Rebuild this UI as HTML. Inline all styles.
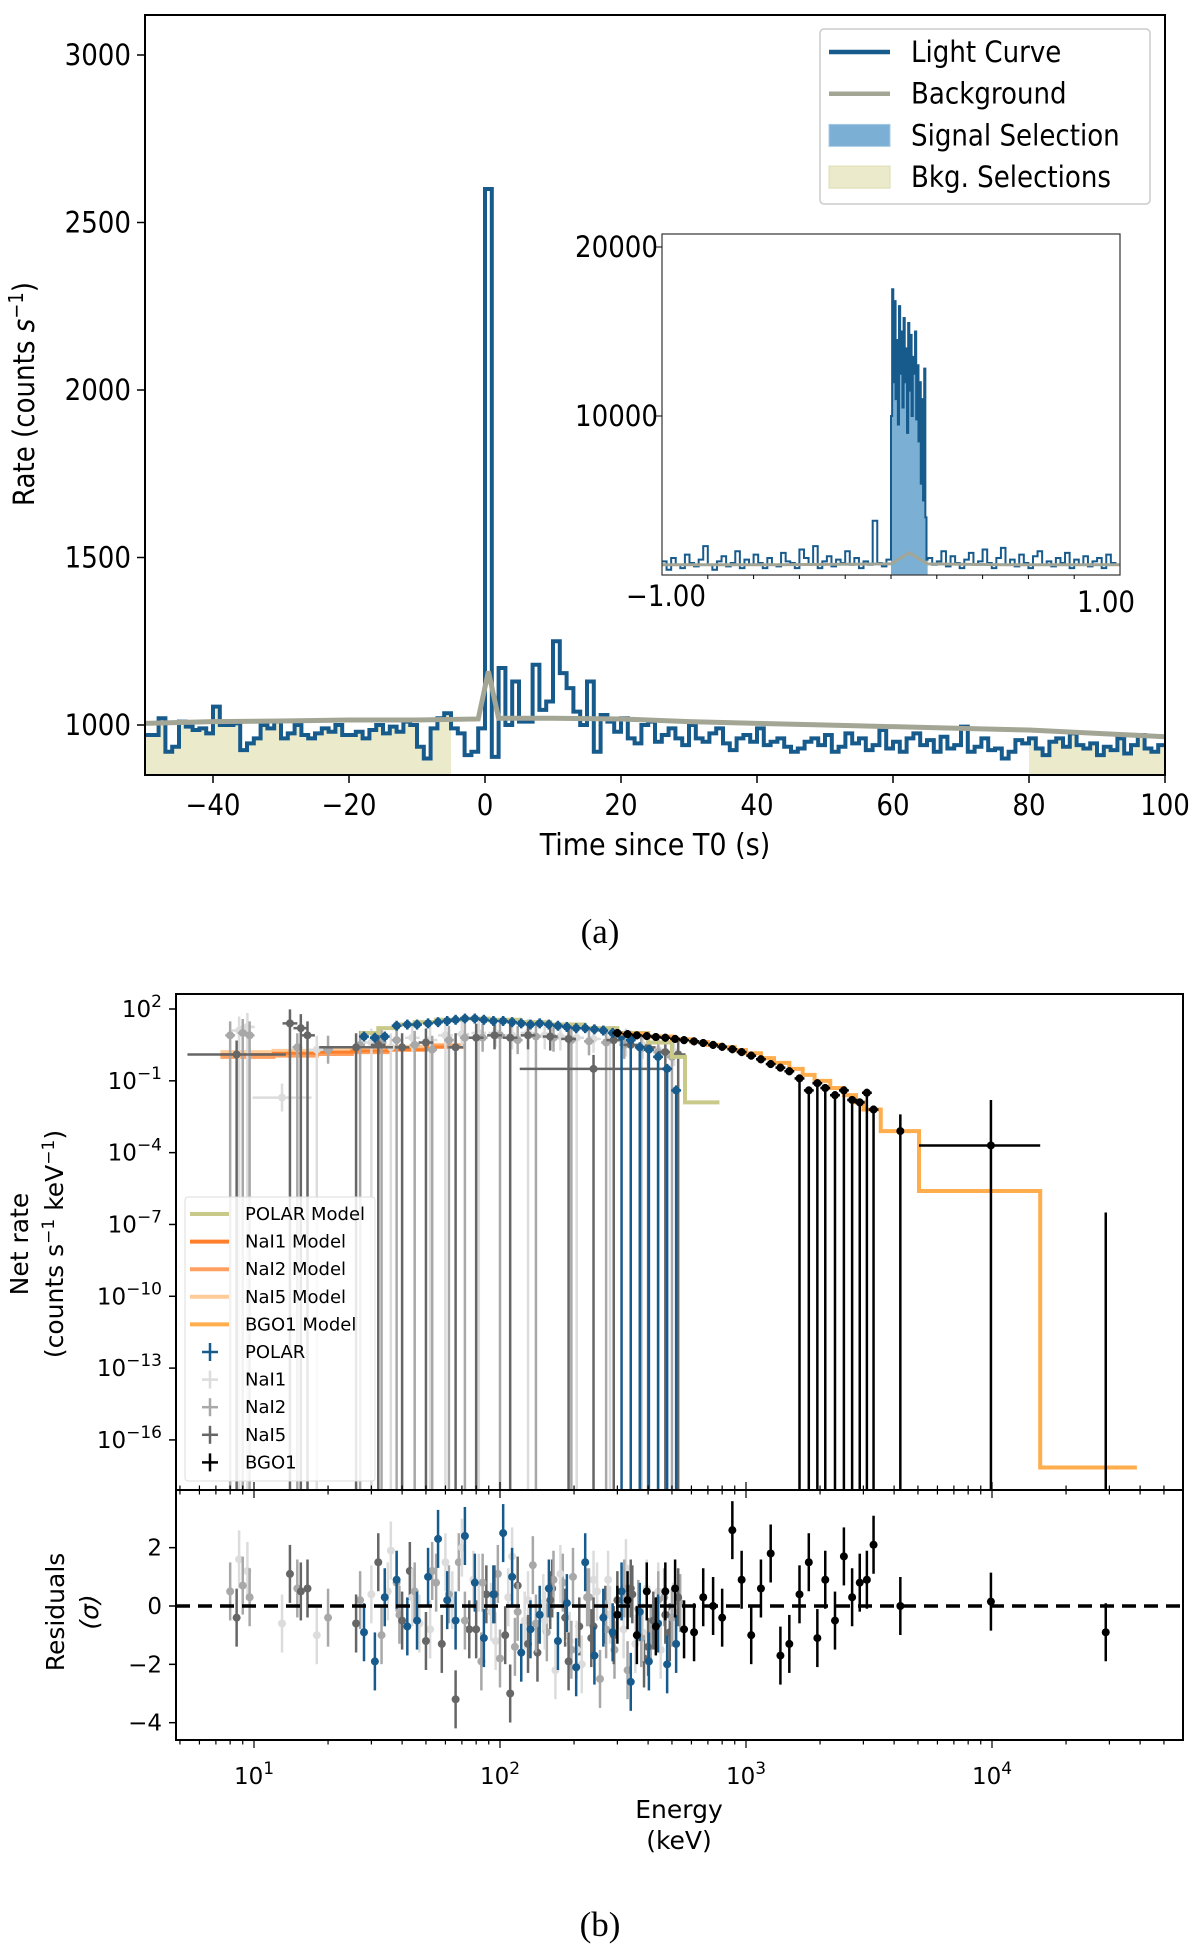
<!DOCTYPE html>
<html><head><meta charset="utf-8">
<style>
html,body{margin:0;padding:0;background:#fff;}
svg{display:block;font-family:"DejaVu Sans","Liberation Sans",sans-serif;}
.cond{font-family:"DejaVu Sans Condensed","DejaVu Sans","Liberation Sans",sans-serif;}
</style></head>
<body>
<svg id="fig" width="1200" height="1958" viewBox="0 0 1200 1958" xmlns="http://www.w3.org/2000/svg">
<rect width="1200" height="1958" fill="#fff"/>
<g id="panelA" class="cond"></g>
<g id="panelB"></g>
<text x="600" y="943" font-family="Liberation Serif, serif" font-size="35" text-anchor="middle">(a)</text>
<text x="600" y="1936" font-family="Liberation Serif, serif" font-size="35" text-anchor="middle">(b)</text>
</svg>
<script>
// ---------- Light curve data ----------
const lcStart = -50;
const lcValues = [970,970,1020,920,935,1010,995,985,990,975,1055,1000,1000,1005,925,945,960,1000,990,1010,960,975,1000,970,960,975,990,980,1000,970,970,980,960,985,1000,975,995,980,1010,1000,935,900,990,1020,1035,
990,975,910,920,990,
2600,905,1170,1000,1130,1010,1010,1180,1045,1070,1250,1155,1110,1040,1000,1130,920,1030,1010,980,
1020,960,945,1000,1010,950,970,990,960,940,1000,960,950,975,990,945,925,960,970,950,
990,940,950,960,935,920,930,950,960,940,970,920,935,975,945,960,925,940,985,930,
950,920,960,975,940,955,920,965,930,940,995,920,935,960,925,930,900,920,955,945,
960,930,910,950,960,935,975,940,930,945,
910,935,925,960,915,940,970,930,920,940];
const bgTimes = [-50,-40,-30,-20,-10,-1,0.5,2,10,20,30,40,50,60,70,80,90,100];
const bgValues = [1005,1010,1012,1015,1015,1018,1160,1020,1020,1018,1010,1005,1000,995,990,985,975,965];
const bkgSel1 = [-50,-5];
const bkgSel2 = [80,100];
const yTicksA = [1000,1500,2000,2500,3000];
const xTicksA = [-40,-20,0,20,40,60,80,100];
// inset
const insetStart = -1.0, insetBin = 0.02;
const insetValues = [1400,900,1600,1200,1000,1800,1300,1100,1500,2300,1200,900,1400,1700,1100,1300,2000,1000,1500,1200,
1800,1300,1000,1600,1200,1100,1900,1400,1300,1000,2100,1600,1200,2300,1000,1400,1700,1100,1500,1300,
2000,1200,1600,1000,1400,1200,3800,1300,1100,1500,
1500,1500,1500,1500,1500,1500,1500,1500,1600,1200,
1400,2000,1100,1700,1300,1000,1500,1900,1200,1400,
2100,1300,1000,1600,2200,1200,1500,1100,1800,1300,1000,1700,2000,1200,1400,1100,1600,1300,1900,1000,
1500,1200,1700,1100,1400,1600,1000,1800,1300,1200];
const insetSignal = [0.0,0.16];
const signalBin = 0.005;
const signalValues = [10000,17500,12000,16800,11000,14500,9500,16500,12500,15000,10500,15800,12000,14000,9000,15500,
11500,14800,10000,13500,12500,15000,9800,13000,8500,12000,6000,11000,5000,12800,4000,1500];
const insetBgT = [-1,-0.5,0,0.08,0.16,0.5,1];
const insetBgV = [1200,1200,1250,1900,1250,1200,1200];
const insetYTicks = [10000,20000];

// ---------- Spectrum data ----------
const polarE = [28,31,34,38,42,46,51,56,61,66,72,79,86,94,103,112,122,133,145,158,172,187,204,222,242,263,287,312,340,370,403,439,478,520];
const polarR = [0.85,0.8,0.85,1.3,1.35,1.35,1.4,1.45,1.5,1.55,1.6,1.6,1.55,1.5,1.5,1.45,1.4,1.35,1.4,1.35,1.3,1.25,1.2,1.2,1.15,1.1,1.0,0.85,0.7,0.4,0.3,0.0,-0.5,-1.4];
const polarBot = [0,0,0,0,0,0,0,0,0,0,0,0,0,0,0,0,0,0,0,0,0,0,0,0,0,0,0,1,1,1,1,1,1,1];
const polarRes = [-0.9,-1.9,0.3,0.9,-0.7,-0.5,1.0,2.3,0.2,-0.5,2.4,0.8,-1.1,0.4,2.5,1.0,-1.6,-0.8,-0.3,0.6,-1.2,0.1,-2.1,1.5,-1.7,-0.4,-0.9,0.5,-2.6,-0.2,-1.9,-0.6,-2.0,-1.3];
const nai1E = [8.7,9.4,13,18,30,36,44,52,60,70,82,96,112,130,152,176,205,240,280,325,380,440,510];
const nai1R = [1.1,1.25,-1.7,0.3,0.6,0.4,0.8,0.7,0.9,0.95,1.0,1.0,0.9,1.0,0.9,0.85,0.8,0.75,0.7,0.6,0.5,0.3,0.2];
const nai1Bot = [1,1,0,1,1,1,0,1,1,0,1,0,0,1,0,0,1,0,1,0,0,1,0];
const nai1W = [0.03,0.03,0.12,0.04,0.03,0.03,0.03,0.03,0.03,0.03,0.03,0.03,0.03,0.03,0.03,0.03,0.03,0.03,0.03,0.03,0.03,0.03,0.03];
const nai1Res = [1.6,1.2,-0.6,-1.0,0.4,1.9,0.3,-0.8,1.5,2.0,0.8,-1.2,1.7,0.2,-0.5,1.1,-1.5,0.9,-0.3,1.3,-0.9,0.5,-0.2];
const nai2E = [8,9,9.6,15,20,27,33,38,45,53,62,72,85,100,118,140,165,195,230,270,320,375,440,500];
const nai2R = [0.9,1.0,0.9,0.4,0.3,0.5,0.6,0.7,0.5,0.3,0.7,0.8,0.8,0.9,0.7,0.85,0.8,0.7,0.65,0.6,0.5,0.35,0.2,0.0];
const nai2Bot = [1,1,1,1,0,1,1,1,1,1,1,1,0,1,0,1,0,1,0,1,0,1,1,1];
const nai2Res = [0.5,0.7,0.3,0.6,-0.4,0.2,-1.0,0.8,0.5,1.2,0.4,-0.5,0.8,-1.8,-0.2,-0.6,0.9,-1.5,0.3,-0.8,0.6,-1.1,0.2,-0.4];
const nai5E = [8.5,14,15.5,16.5,26,32,40,50,66,80,95,110,130,160,190,240,290,340,400,470,530];
const nai5R = [0.1,1.4,1.2,0.9,0.4,0.5,0.4,0.6,0.4,0.8,0.9,0.8,0.9,0.85,0.75,-0.5,0.7,0.5,0.4,0.2,0.1];
const nai5Bot = [1,1,1,1,1,1,1,1,1,1,0,1,0,0,1,1,1,1,1,1,1];
const nai5W = [0.2,0.03,0.03,0.03,0.15,0.03,0.03,0.03,0.03,0.03,0.03,0.03,0.03,0.03,0.03,0.3,0.03,0.03,0.03,0.03,0.03];
const nai5Res = [-0.4,1.1,0.5,0.6,-0.6,1.5,-0.5,-1.2,-3.2,-0.8,0.4,-3.0,-1.3,0.2,-1.9,-0.7,-1.0,0.6,-1.4,-0.3,0.3];
// extra residual-only points (dense fine-binned channels)
const extraResE = [35,39,43,47,55,58,64,68,75,78,84,88,92,98,105,108,115,118,126,136,142,150,155,163,168,180,184,192,198,210,215,226,235,248,255,268,275,292,300,318,330,345,355,365,385,395,410,420,450,465,490,505,540];
const extraResV = [0.5,-0.3,1.2,-0.6,0.8,-1.3,0.2,1.5,-0.8,0.9,-1.9,0.4,-0.2,1.1,-1.0,0.3,-1.4,0.7,-0.5,1.4,-1.6,0.1,-0.9,0.6,-2.2,0.8,-0.4,-1.2,1.0,-0.7,-2.0,0.3,-1.1,0.5,-2.5,-0.3,0.9,-1.5,0.2,-0.8,-2.2,0.4,-1.3,-0.1,-1.8,0.6,-1.0,-0.5,-1.5,0.3,-0.9,-0.2,0.1];
const extraResC = [0,1,2,0,1,2,0,1,2,0,1,2,0,1,2,0,1,2,0,1,2,0,1,2,0,1,2,0,1,2,0,1,2,0,1,2,0,1,2,0,1,2,0,1,2,0,1,2,0,1,2,0,1];
const bgoE = [300,330,360,395,430,470,515,560,615,670,735,800,880,960,1050,1150,1260,1380,1500,1650,1800,1950,2100,2300,2500,2700,2900,3100,3300];
const bgoR = [1.0,0.95,0.9,0.87,0.83,0.8,0.75,0.7,0.65,0.58,0.5,0.42,0.32,0.2,0.05,-0.1,-0.3,-0.45,-0.6,-0.9,-1.4,-1.1,-1.3,-1.6,-1.4,-1.8,-1.9,-1.5,-2.2];
const bgoBot = [0,0,0,0,0,0,0,0,0,0,0,0,0,0,0,0,0,0,0,1,1,1,1,1,1,1,1,1,1];
const bgoRes = [-0.3,0.2,-1.0,0.5,-0.7,0.5,0.6,-0.8,-0.9,0.3,0.0,-0.4,2.6,0.9,-1.0,0.6,1.8,-1.7,-1.3,0.4,1.5,-1.1,0.9,-0.5,1.7,0.3,0.8,0.9,2.1];
const bgoExtraE = [4240,9900,29000];
const bgoExtraR = [-3.1,-3.7,null];
const bgoExtraTop = [-2.4,-1.8,-6.5];
const bgoExtraRes = [0.0,0.15,-0.9];
const polarModelE = [27,32,38,45,55,70,90,120,160,220,300,400,500,565,780];
const polarModelR = [1.0,1.2,1.35,1.45,1.55,1.6,1.55,1.45,1.35,1.2,1.0,0.6,0.0,-1.9];
const naiModelE = [7.3,12,18,25,35,50,72];
const nai1ModelR = [0.1,0.15,0.2,0.25,0.3,0.4];
const nai2ModelR = [0.0,0.05,0.12,0.2,0.3,0.45];
const nai5ModelR = [0.2,0.25,0.3,0.35,0.42,0.5];
const bgoModelE = [300,400,500,600,700,800,900,1000,1150,1300,1500,1700,1900,2200,2500,2800,3000,3530,5050,15700,38800];
const bgoModelR = [0.97,0.85,0.73,0.62,0.5,0.4,0.28,0.15,-0.05,-0.25,-0.5,-0.75,-1.0,-1.3,-1.6,-1.9,-2.2,-3.1,-5.6,-17.15];
const yTicksB = [2,-1,-4,-7,-10,-13,-16];
const resTicks = [2,0,-2,-4];

const NS = "http://www.w3.org/2000/svg";
function el(parent, tag, attrs, text) {
  const e = document.createElementNS(NS, tag);
  for (const k in attrs) e.setAttribute(k, attrs[k]);
  if (text !== undefined) e.textContent = text;
  parent.appendChild(e);
  return e;
}

// ===== Panel A =====
const A = document.getElementById('panelA');
const ax0 = 145, ax1 = 1165, ay0 = 15, ay1 = 775;
const xA = t => ax0 + (t + 50) / 150 * (ax1 - ax0);
const yA = v => 725 - (v - 1000) / 500 * 167.5;
{
  const segs = [bkgSel1, bkgSel2];
  segs.forEach((s, i) => {
    let d = 'M' + xA(s[0]) + ',' + ay1;
    for (let k = 0; k < lcValues.length; k++) {
      const t0 = lcStart + k, t1 = t0 + 1;
      if (t1 <= s[0] || t0 >= s[1]) continue;
      const a = Math.max(t0, s[0]), b = Math.min(t1, s[1]);
      d += 'L' + xA(a) + ',' + yA(lcValues[k]) + 'L' + xA(b) + ',' + yA(lcValues[k]);
    }
    d += 'L' + xA(s[1]) + ',' + ay1 + 'Z';
    const p = el(A, 'path', {d: d, fill: '#ebebcc'});
    
    
  });
}
{
  let d = '';
  lcValues.forEach((v, k) => {
    const t0 = lcStart + k;
    d += (k === 0 ? 'M' : 'L') + xA(t0) + ',' + yA(v) + 'L' + xA(t0 + 1) + ',' + yA(v);
  });
  const p = el(A, 'path', {d: d, fill: 'none', stroke: '#175a8c', 'stroke-width': 4, 'stroke-linejoin': 'miter'});
  
  
  const b = el(A, 'polyline', {points: bgTimes.map((t, i) => xA(t) + ',' + yA(bgValues[i])).join(' '), fill: 'none', stroke: '#a3a595', 'stroke-width': 5});
  
  
}
{
  const f = el(A, 'rect', {x: ax0, y: ay0, width: ax1 - ax0, height: ay1 - ay0, fill: 'none', stroke: '#000', 'stroke-width': 2});
  
  
  yTicksA.forEach(v => {
    el(A, 'line', {x1: ax0 - 8, x2: ax0, y1: yA(v), y2: yA(v), stroke: '#000', 'stroke-width': 1.5});
    const t = el(A, 'text', {x: ax0 - 14, y: yA(v) + 10, 'font-size': 29, 'text-anchor': 'end'}, String(v));
    
    
  });
  xTicksA.forEach(v => {
    el(A, 'line', {x1: xA(v), x2: xA(v), y1: ay1, y2: ay1 + 8, stroke: '#000', 'stroke-width': 1.5});
    const t = el(A, 'text', {x: xA(v), y: ay1 + 40, 'font-size': 29, 'text-anchor': 'middle'}, v < 0 ? '\u2212' + (-v) : String(v));
    
    
  });
  const xl = el(A, 'text', {x: 655, y: 855, 'font-size': 30, 'text-anchor': 'middle'}, 'Time since T0 (s)');
  
  
  const yl = el(A, 'text', {x: 0, y: 0, 'font-size': 29, 'text-anchor': 'middle', transform: 'translate(34,394) rotate(-90)'});
  
  
  el(yl, 'tspan', {}, 'Rate (counts ');
  el(yl, 'tspan', {'font-style': 'italic'}, 's');
  el(yl, 'tspan', {dy: -11, 'font-size': 20}, '\u22121');
  el(yl, 'tspan', {dy: 11}, ')');
}
{
  const g = el(A, 'g', {});
  
  
  el(g, 'rect', {x: 820, y: 29, width: 330, height: 175, rx: 4, fill: '#fff', stroke: '#ccc', 'stroke-width': 1.5});
  const items = [['Light Curve', 'line', '#175a8c'], ['Background', 'line', '#a3a595'], ['Signal Selection', 'box', '#7bafd4'], ['Bkg. Selections', 'box', '#ebebcc']];
  items.forEach((it, i) => {
    const y = 52 + i * 41.7;
    const e = el(g, 'g', {});
    
    
    if (it[1] === 'line') el(e, 'line', {x1: 829, x2: 890, y1: y, y2: y, stroke: it[2], 'stroke-width': 4.5});
    else el(e, 'rect', {x: 829, y: y - 11, width: 61, height: 22, fill: it[2], stroke: it[2] === '#ebebcc' ? '#ddddb0' : '#a8c8e4'});
    el(e, 'text', {x: 911, y: y + 10, 'font-size': 29}, it[0]);
  });
}
{
  const g = el(A, 'g', {});
  
  
  const ix0 = 662, ix1 = 1120, iy0 = 234, iy1 = 575;
  const xi = t => ix0 + (t + 1) / 2 * (ix1 - ix0);
  const yi = v => 416 - (v - 10000) / 10000 * 169;
  el(g, 'rect', {x: ix0, y: iy0, width: ix1 - ix0, height: iy1 - iy0, fill: '#fff'});
  let d = 'M' + xi(insetSignal[0]) + ',' + iy1;
  signalValues.forEach((v, k) => {
    const t0 = insetSignal[0] + k * signalBin;
    d += 'L' + xi(t0) + ',' + yi(v) + 'L' + xi(t0 + signalBin) + ',' + yi(v);
  });
  d += 'L' + xi(insetSignal[1]) + ',' + iy1 + 'Z';
  const sf = el(g, 'path', {d: d, fill: '#7bafd4'});
  
  
  let d2 = '';
  let first = true;
  insetValues.forEach((v, k) => {
    const t0 = insetStart + k * insetBin;
    if (Math.abs(t0 - insetSignal[0]) < 1e-6) {
      signalValues.forEach((sv, j) => {
        const s0 = insetSignal[0] + j * signalBin;
        d2 += 'L' + xi(s0) + ',' + yi(sv) + 'L' + xi(s0 + signalBin) + ',' + yi(sv);
      });
    }
    if (t0 >= insetSignal[0] - 1e-6 && t0 < insetSignal[1] - 1e-6) return;
    d2 += (first ? 'M' : 'L') + xi(t0) + ',' + Math.min(yi(v), iy1) + 'L' + xi(t0 + insetBin) + ',' + Math.min(yi(v), iy1);
    first = false;
  });
  const lc = el(g, 'path', {d: d2, fill: 'none', stroke: '#175a8c', 'stroke-width': 2});
  
  
  const bg = el(g, 'polyline', {points: insetBgT.map((t, i) => xi(t) + ',' + yi(insetBgV[i])).join(' '), fill: 'none', stroke: '#a3a595', 'stroke-width': 3});
  
  
  el(g, 'rect', {x: ix0, y: iy0, width: ix1 - ix0, height: iy1 - iy0, fill: 'none', stroke: '#333', 'stroke-width': 1.2});
  insetYTicks.forEach(v => {
    el(g, 'line', {x1: ix0 - 6, x2: ix0, y1: yi(v), y2: yi(v), stroke: '#000'});
    el(g, 'text', {x: ix0 - 4, y: yi(v) + 10, 'font-size': 29, 'text-anchor': 'end'}, String(v));
  });
  [-0.8, -0.6, -0.4, -0.2, 0, 0.2, 0.4, 0.6, 0.8].forEach(t => el(g, 'line', {x1: xi(t), x2: xi(t), y1: iy1, y2: iy1 + 4, stroke: '#000'}));
  el(g, 'text', {x: 666, y: 606, 'font-size': 29, 'text-anchor': 'middle'}, '\u22121.00');
  el(g, 'text', {x: 1106, y: 612, 'font-size': 29, 'text-anchor': 'middle'}, '1.00');
}

// ===== Panel B =====
const B = document.getElementById('panelB');
const bx0 = 176, bx1 = 1183, by0 = 994, by1 = 1490, ry1 = 1740;
const xB = E => 254 + (Math.log10(E) - 1) * 246;
const yB = lr => 1009 - (lr - 2) * 23.94;
const yR = r => 1606 - r * 29.17;
const clipB = el(B, 'clipPath', {id: 'clipTop'});
el(clipB, 'rect', {x: bx0, y: by0, width: bx1 - bx0, height: by1 - by0});
const topG = el(B, 'g', {'clip-path': 'url(#clipTop)'});



function spectrum(name, E, R, bot, W, color, ms, eh) {
  const g = el(topG, 'g', {});
  
  
  E.forEach((e, i) => {
    const x = xB(e), y = yB(R[i]);
    const w = W ? W[i] : 0.02;
    el(g, 'line', {x1: xB(e / Math.pow(10, w)), x2: xB(e * Math.pow(10, w)), y1: y, y2: y, stroke: color, 'stroke-width': 2.5});
    el(g, 'line', {x1: x, x2: x, y1: y - eh, y2: bot[i] ? by1 + 5 : y + eh, stroke: color, 'stroke-width': 2.5});
    el(g, 'circle', {cx: x, cy: y, r: ms, fill: color});
  });
}
function stepModel(name, E, R, color, w) {
  let d = '';
  R.forEach((r, i) => { d += (i === 0 ? 'M' : 'L') + xB(E[i]) + ',' + yB(r) + 'L' + xB(E[i + 1]) + ',' + yB(r); });
  const p = el(topG, 'path', {d: d, fill: 'none', stroke: color, 'stroke-width': w});
  
  
}
stepModel('nai5-model', naiModelE, nai5ModelR, '#ffcc99', 4);
stepModel('nai2-model', naiModelE, nai2ModelR, '#ffa060', 4);
stepModel('nai1-model', naiModelE, nai1ModelR, '#ff7f2a', 3);
spectrum('nai1', nai1E, nai1R, nai1Bot, nai1W, '#dcdcdc', 4, 14);
spectrum('nai2', nai2E, nai2R, nai2Bot, null, '#a8a8a8', 4, 14);
spectrum('nai5', nai5E, nai5R, nai5Bot, nai5W, '#666666', 4, 14);
stepModel('polar-model', polarModelE, polarModelR, '#c9c98a', 4);
spectrum('polar', polarE, polarR, polarBot, null, '#175a8c', 4, 5);
stepModel('bgo1-model', bgoModelE, bgoModelR, '#ffad4d', 4);
spectrum('bgo1', bgoE, bgoR, bgoBot, null, '#000', 4, 4);
{
  const g = el(topG, 'g', {});
  
  
  bgoExtraE.forEach((e, i) => {
    const x = xB(e);
    el(g, 'line', {x1: x, x2: x, y1: yB(bgoExtraTop[i]), y2: by1 + 5, stroke: '#000', 'stroke-width': 2.5});
    if (bgoExtraR[i] !== null) {
      const y = yB(bgoExtraR[i]);
      if (i === 1) el(g, 'line', {x1: xB(5050), x2: xB(15700), y1: y, y2: y, stroke: '#000', 'stroke-width': 2.5});
      el(g, 'circle', {cx: x, cy: y, r: 4, fill: '#000'});
    }
  });
}
const resG = el(B, 'g', {});


function residuals(name, E, Rs, color) {
  const g = el(resG, 'g', {});
  
  
  E.forEach((e, i) => {
    const x = xB(e), y = yR(Rs[i]);
    const c = Array.isArray(color) ? color[i] : color;
    el(g, 'line', {x1: x, x2: x, y1: y - 29, y2: y + 29, stroke: c, 'stroke-width': 2.5});
    el(g, 'circle', {cx: x, cy: y, r: 4, fill: c});
  });
}
const extraPalette = ['#dcdcdc', '#a8a8a8', '#666666'];
residuals('nai-extra', extraResE, extraResV, extraResC.map(c => extraPalette[c]));
residuals('nai1', nai1E, nai1Res, '#dcdcdc');
residuals('nai2', nai2E, nai2Res, '#a8a8a8');
residuals('nai5', nai5E, nai5Res, '#666666');
residuals('polar', polarE, polarRes, '#175a8c');
residuals('bgo1', bgoE, bgoRes, '#000');
residuals('bgo1-extra', bgoExtraE, bgoExtraRes, '#000');
{
  const z = el(B, 'line', {x1: bx0, x2: bx1, y1: yR(0), y2: yR(0), stroke: '#000', 'stroke-width': 3.5, 'stroke-dasharray': '14,8'});
  
  
}
el(B, 'rect', {x: bx0, y: by0, width: bx1 - bx0, height: by1 - by0, fill: 'none', stroke: '#000', 'stroke-width': 2});
el(B, 'rect', {x: bx0, y: by1, width: bx1 - bx0, height: ry1 - by1, fill: 'none', stroke: '#000', 'stroke-width': 2});
yTicksB.forEach(p => {
  el(B, 'line', {x1: bx0 - 7, x2: bx0, y1: yB(p), y2: yB(p), stroke: '#000', 'stroke-width': 1.5});
  const t = el(B, 'text', {x: bx0 - 14, y: yB(p) + 8, 'font-size': 23, 'text-anchor': 'end'});
  
  
  el(t, 'tspan', {}, '10');
  el(t, 'tspan', {dy: -10, 'font-size': 17}, p < 0 ? '\u2212' + (-p) : String(p));
});
resTicks.forEach(v => {
  el(B, 'line', {x1: bx0 - 7, x2: bx0, y1: yR(v), y2: yR(v), stroke: '#000', 'stroke-width': 1.5});
  const t = el(B, 'text', {x: bx0 - 14, y: yR(v) + 8, 'font-size': 23, 'text-anchor': 'end'}, v < 0 ? '\u2212' + (-v) : String(v));
  
  
});
for (let dec = 0; dec <= 4; dec++) {
  for (let m = 1; m < 10; m++) {
    const E = m * Math.pow(10, dec);
    const x = xB(E);
    if (x < bx0 || x > bx1) continue;
    const L = m === 1 ? 8 : 4.5;
    el(B, 'line', {x1: x, x2: x, y1: ry1, y2: ry1 + L, stroke: '#000', 'stroke-width': 1.2});
    el(B, 'line', {x1: x, x2: x, y1: by1, y2: by1 + L, stroke: '#000', 'stroke-width': 1.2});
    el(B, 'line', {x1: x, x2: x, y1: by1, y2: by1 - L, stroke: '#000', 'stroke-width': 1.2});
    if (m === 1 && dec >= 1) {
      const t = el(B, 'text', {x: x, y: 1784, 'font-size': 23, 'text-anchor': 'middle'});
      
      
      el(t, 'tspan', {}, '10');
      el(t, 'tspan', {dy: -10, 'font-size': 17}, String(dec));
    }
  }
}
{
  const t1 = el(B, 'text', {x: 679, y: 1818, 'font-size': 25, 'text-anchor': 'middle'}, 'Energy');
  
  
  el(B, 'text', {x: 679, y: 1849, 'font-size': 25, 'text-anchor': 'middle'}, '(keV)');
  const y1 = el(B, 'text', {'font-size': 25, 'text-anchor': 'middle', transform: 'translate(28,1244) rotate(-90)'}, 'Net rate');
  
  
  const y2 = el(B, 'text', {'font-size': 25, 'text-anchor': 'middle', transform: 'translate(63,1244) rotate(-90)'});
  el(y2, 'tspan', {}, '(counts s');
  el(y2, 'tspan', {dy: -9, 'font-size': 17}, '\u22121');
  el(y2, 'tspan', {dy: 9}, ' keV');
  el(y2, 'tspan', {dy: -9, 'font-size': 17}, '\u22121');
  el(y2, 'tspan', {dy: 9}, ')');
  const r1 = el(B, 'text', {'font-size': 25, 'text-anchor': 'middle', transform: 'translate(64,1612) rotate(-90)'}, 'Residuals');
  
  
  el(B, 'text', {'font-size': 25, 'text-anchor': 'middle', 'font-style': 'italic', transform: 'translate(98,1612) rotate(-90)'}, '(\u03c3)');
}
{
  const g = el(B, 'g', {});
  
  
  el(g, 'rect', {x: 185, y: 1197, width: 190, height: 284, rx: 3, fill: '#fff', 'fill-opacity': 0.85, stroke: '#ddd'});
  const items = [['POLAR Model', '#c9c98a', 'l'], ['NaI1 Model', '#ff7f2a', 'l'], ['NaI2 Model', '#ffa060', 'l'], ['NaI5 Model', '#ffcc99', 'l'], ['BGO1 Model', '#ffad4d', 'l'],
    ['POLAR', '#175a8c', 'e'], ['NaI1', '#dcdcdc', 'e'], ['NaI2', '#a8a8a8', 'e'], ['NaI5', '#666666', 'e'], ['BGO1', '#000', 'e']];
  items.forEach((it, i) => {
    const y = 1214 + i * 27.6;
    const e = el(g, 'g', {});
    
    
    if (it[2] === 'l') el(e, 'line', {x1: 190, x2: 229, y1: y, y2: y, stroke: it[1], 'stroke-width': 4});
    else {
      el(e, 'line', {x1: 202, x2: 218, y1: y, y2: y, stroke: it[1], 'stroke-width': 2.5});
      el(e, 'line', {x1: 210, x2: 210, y1: y - 9, y2: y + 9, stroke: it[1], 'stroke-width': 2.5});
    }
    el(e, 'text', {x: 245, y: y + 6, 'font-size': 18}, it[0]);
  });
}
</script>
</body></html>
